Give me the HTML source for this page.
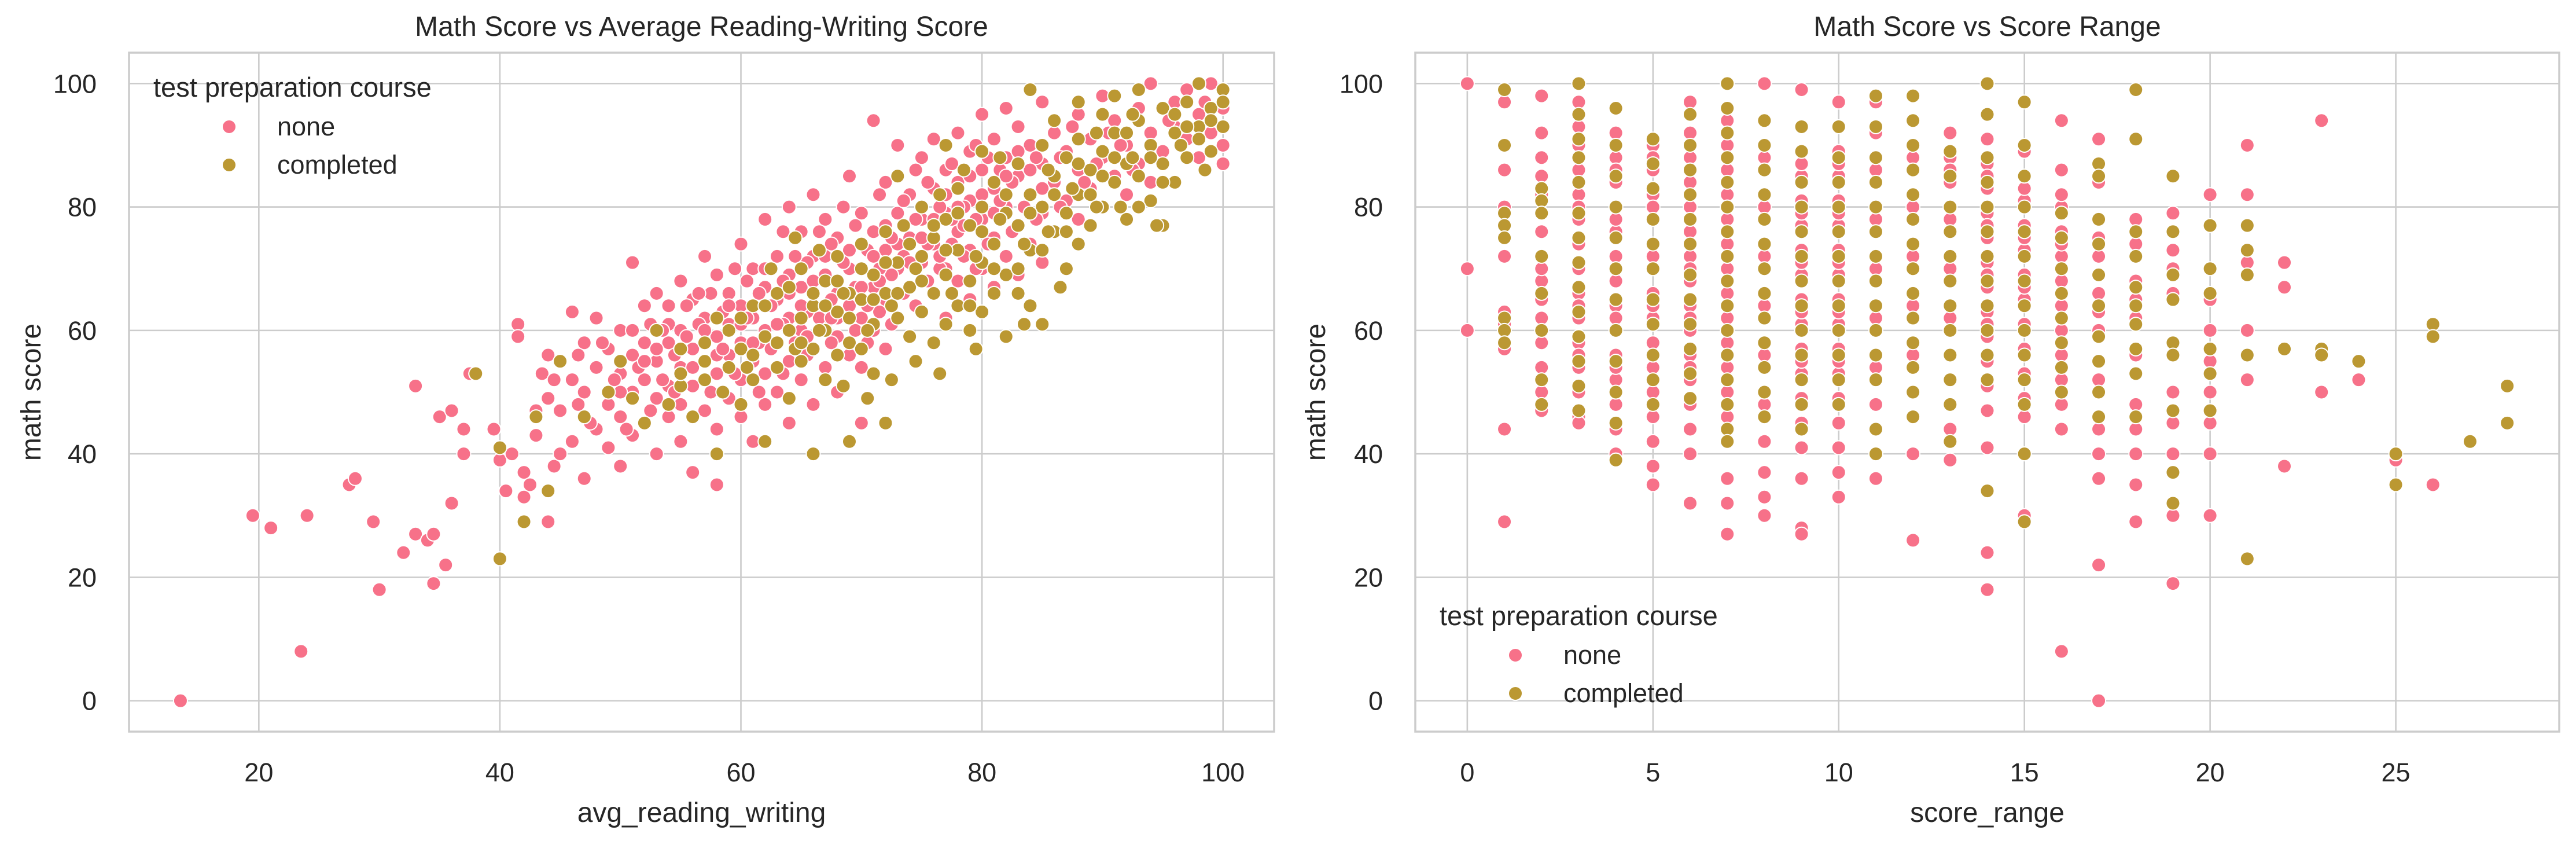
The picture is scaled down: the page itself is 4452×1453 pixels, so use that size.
<!DOCTYPE html>
<html><head><meta charset="utf-8"><style>
html,body{margin:0;padding:0;background:#fff;}
svg{display:block;font-family:"Liberation Sans",Arial,sans-serif;}
</style></head><body>
<svg id="chart" width="4452" height="1453" viewBox="0 0 4452 1453" xmlns="http://www.w3.org/2000/svg">
<rect width="4452" height="1453" fill="#fff"/>
<g id="p1"></g>
<g id="p2"></g>
</svg>
<script>
// ---- data: left panel (avg_reading_writing, math score) ----
const leftNone = [[13.5,0],[19.5,30],[21,28],[23.5,8],[24,30],[27.5,35],[28,36],[29.5,29],[30,18],[32,24],[33,27],[33,51],[34,26],[34.5,19],[34.5,27],[35,46],[35.5,22],[36,47],[36,32],[37,44],[37,40],[37.5,53],[38,53],[39.5,44],[40,39],[40.5,34],[41,40],[41.5,61],[41.5,59],[42,37],[42,33],[42.5,35],[43,47],[43,43],[43.5,53],[44,29],[44,49],[44.5,38],[44,56],
[45,55],[45,40],[45,47],[46,52],[46,63],[46,42],[47,58],[47,36],[47,50],[48,54],[48,44],[48,62],[49,41],[49,57],[49,48],[50,53],[50,60],[50,46],[50,38],[51,71],[51,56],[51,50],[51,43],[52,64],[52,58],[52,52],[52,45],[53,49],[53,66],[53,55],[53,40],[54,61],[54,51],[54,58],[54,46],[55,68],[55,60],[55,54],[55,48],[55,42],[56,65],[56,57],[56,51],[56,37],[57,72],[57,62],[57,55],[57,47],[58,69],[58,59],[58,53],[58,44],[58,35],[59,66],[59,61],[59,56],[59,49],[60,74],[60,64],[60,58],[60,52],[60,46],[61,70],[61,62],[61,55],[61,42],[62,78],[62,67],[62,60],[62,53],[62,48],[63,72],[63,65],[63,58],[63,50],[64,80],[64,69],[64,62],[64,55],[64,45],[65,76],[65,67],[65,60],[65,52],[66,82],[66,72],[66,64],[66,57],[66,48],[67,78],[67,69],[67,61],[67,54],[68,75],[68,66],[68,59],[68,50],[69,85],[69,73],[69,64],[69,56],[70,79],[70,70],[70,62],[70,54],[70,45],[71,94],[71,76],[71,67],[71,60],[72,84],[72,73],[72,65],[72,57],[73,90],[73,79],[73,70],[73,62],[74,82],[74,75],[74,67],[74,59],[75,88],[75,78],[75,71],[75,63],[76,91],[76,83],[76,74],[76,66],[77,86],[77,79],[77,70],[77,62],[78,92],[78,84],[78,76],[78,68],[79,89],[79,81],[79,73],[79,65],[80,95],[80,86],[80,78],[80,70],[81,91],[81,83],[81,75],[81,67],[82,96],[82,88],[82,80],[82,72],[83,93],[83,85],[83,77],[83,69],[84,90],[84,82],[84,74],[85,97],[85,87],[85,79],[85,71],[86,92],[86,84],[86,76],[87,89],[87,81],[88,95],[88,86],[88,78],[89,91],[89,83],[90,98],[90,88],[90,80],[91,94],[91,85],[92,90],[92,82],[93,96],[93,87],[94,100],[94,92],[94,84],[95,89],[96,97],[96,93],[97,99],[97,91],[98,95],[98,88],[99,100],[99,92],[100,96],[100,90],[100,87],
[60.5,68],[63.5,76],[65.5,71],[67.5,74],[68.5,80],[70.5,73],[71.5,82],[72.5,69],[73.5,77],[74.5,86],[75.5,74],[76.5,80],[77.5,87],[78.5,72],[79.5,78],[81.5,86],[84.5,88],[66.5,62],[64.5,58],[62.5,64],[58.5,63],[56.5,61],[54.5,56],[59.5,70],[61.5,66],[69.5,67],[57.5,50],[55.5,64],[53.5,60],[52.5,47],[71.5,63],[73.5,66],[75.5,68],[77.5,74],[79.5,70],[83.5,80],[86.5,88],[89.5,87],[91.5,90],[87.5,93],[59.5,53],[61.5,58],[63.5,61],[65.5,63],[67.5,65],[69.5,60],[71.5,70],[73.5,72],[57.5,66],[55.5,59],[53.5,52],[51.5,54],[49.5,52],[47.5,45],[46.5,56],[63.5,53],[65.5,56],[67.5,58],[70.5,64],[72.5,61],[74.5,64],[76.5,70],[78.5,80],[80.5,74],[82.5,84],[84.5,78],[86.5,80],[88.5,84],[90.5,92],[92.5,86],[95.5,94],[98.5,97],
[50,50],[51,60],[52,55],[53,57],[54,64],[55,57],[56,54],[57,60],[58,56],[59,64],[60,61],[61,58],[62,70],[63,61],[64,66],[65,64],[66,68],[67,72],[68,62],[69,70],[70,67],[71,72],[72,77],[73,74],[74,71],[75,75],[76,78],[77,82],[78,80],[79,85],[80,82],[81,79],[82,85],[83,89],[84,86],[85,83],[52.5,61],[54.5,50],[56.5,66],[58.5,57],[60.5,62],[62.5,57],[64.5,72],[66.5,76],[68.5,71],[70.5,58],[72.5,75],[74.5,78],[76.5,72],[78.5,77],[80.5,88],[82.5,76],[48.5,58],[46.5,48],[44.5,52],[50.5,44],[61.5,50],[63.5,68],[65.5,59],[67.5,62],[69.5,77],[71.5,68],[73.5,81],[75.5,84],[77.5,78],[79.5,90],[81.5,81]];
const leftCompleted = [[38,53],[40,23],[40,41],[42,29],[43,46],[45,55],[44,34],[47,46],[49,50],[50,55],[51,49],[52,45],[53,60],[54,48],[55,57],[55,51],[56,46],[57,58],[57,52],[58,40],[58,62],[59,54],[60,57],[60,48],[61,64],[61,52],[62,59],[62,42],[63,66],[63,54],[64,60],[64,49],[65,70],[65,62],[65,55],[66,64],[66,57],[66,40],[67,68],[67,60],[67,52],[68,72],[68,63],[68,56],[69,66],[69,58],[69,42],[70,74],[70,65],[70,57],[71,69],[71,61],[71,53],[72,76],[72,66],[72,45],[73,85],[73,71],[73,62],[74,67],[74,59],[75,80],[75,72],[75,63],[76,75],[76,66],[76,58],[77,90],[77,78],[77,69],[77,61],[78,83],[78,73],[78,64],[79,77],[79,68],[79,60],[80,89],[80,80],[80,71],[80,63],[81,84],[81,74],[81,66],[82,79],[82,69],[82,59],[83,87],[83,77],[83,70],[84,99],[84,82],[84,73],[84,64],[85,90],[85,80],[85,61],[86,94],[86,85],[86,76],[87,88],[87,79],[87,70],[88,97],[88,91],[88,82],[88,74],[89,86],[89,77],[90,95],[90,89],[90,80],[91,98],[91,92],[91,84],[92,87],[92,78],[93,99],[93,94],[93,85],[94,90],[94,81],[95,96],[95,87],[95,77],[96,92],[96,84],[97,97],[97,88],[98,100],[98,93],[99,96],[99,89],[100,99],[100,93],[100,97],[94.5,77],[91.5,80],[86.5,67],[83.5,61],[79.5,57],[76.5,53],[74.5,55],[72.5,52],[70.5,49],[68.5,51],[73.5,77],[76.5,82],[78.5,86],[81.5,88],[85.5,86],[89.5,92],[92.5,95],[62.5,70],[64.5,75],[66.5,73],[70.5,60],[72.5,64],[74.5,70],[77.5,66],[79.5,72],[81.5,78],[83.5,74],[85.5,76],[87.5,83],[89.5,80],[92.5,88],[96.5,90],[98.5,86],[68.5,66],[66.5,60],[64.5,57],[60.5,54],[58.5,50],
[60,62],[62,64],[64,67],[66,66],[68,68],[70,70],[72,71],[74,74],[76,77],[78,79],[80,76],[82,82],[84,79],[86,82],[88,87],[90,85],[92,92],[94,88],[96,95],[98,91],[63,58],[65,58],[67,64],[69,62],[71,65],[73,66],[75,68],[77,73],[79,64],[81,70],[83,66],[85,73],[87,76],[89,82],[91,88],[93,80],[95,84],[97,93],[99,94],[61,56],[59,60],[57,55],[55,53]];

// ---- data: right panel, math scores grouped by score_range (index = score_range) ----
const rangeNone = [[100,70,60],[97,86,80,72,63,61,57,44,29],[98,92,88,82,76,72,68,65,62,58,54,50,47,85,79,70],[97,90,86,82,78,74,70,66,62,58,54,50,46,45,93,88,80,64,56],[92,88,84,80,76,72,68,64,60,56,52,48,44,40,39,86,78,70,62,54],[90,86,82,78,74,70,66,62,58,54,50,46,42,38,35,88,80,72,64,56],[97,92,88,84,80,76,72,68,64,60,56,52,48,44,40,32,86,78,70,62,54],[100,94,90,86,82,78,74,70,66,62,58,54,50,46,42,36,32,27,88,80,72,64,56,48],[100,94,90,86,82,78,74,70,66,62,58,54,50,46,42,37,33,30,88,80,72,64,56,48],[99,93,89,85,81,77,73,69,65,61,57,53,49,45,41,36,28,27,87,79,71,63,55],[97,93,89,85,81,77,73,69,65,61,57,53,49,45,41,37,33,87,79,71,63,55],[97,92,88,84,80,76,72,68,64,60,56,52,48,44,40,36,86,78,70,62,54],[98,94,90,86,82,78,74,70,66,62,58,54,50,46,40,26,88,80,72,64,56],[92,88,84,80,76,72,68,64,60,56,52,48,44,39,86,78,70,62],[95,91,87,83,79,75,71,67,63,59,55,51,47,41,24,18,85,77,69,61],[89,85,81,77,73,69,65,61,57,53,49,46,40,30,83,75,67],[94,86,80,76,72,68,64,60,56,52,48,44,8,82,74,66],[91,84,78,72,66,60,52,44,40,36,22,0,75,69,63],[78,74,68,62,56,48,44,40,35,29,65],[79,73,70,66,58,50,45,40,30,19],[82,65,60,55,50,45,40,30],[90,82,71,60,52],[71,67,38],[94,50],[52],[39],[35],[],[]];
const rangeCompleted = [[],[99,90,79,77,75,62,60,58],[83,81,79,72,66,60,52,48],[100,95,91,88,84,79,75,71,67,63,59,55,51,47],[96,90,85,80,75,70,65,60,55,50,45,39],[91,87,83,78,74,70,65,61,56,52,48],[95,90,86,82,78,74,69,65,61,57,53,49],[100,96,92,88,84,80,76,72,68,64,60,56,52,48,44,42],[94,90,86,82,78,74,70,66,62,58,54,50,46],[93,89,84,80,76,72,68,64,60,56,52,48,44],[93,88,84,80,76,72,68,64,60,56,52,48],[98,93,88,84,80,76,72,68,64,60,56,52,44,40],[98,94,90,86,82,78,74,70,66,62,58,54,50,46],[89,85,80,76,72,68,64,60,56,52,48,42],[100,95,88,84,80,76,72,68,64,60,56,52,34],[97,90,85,80,76,72,68,64,60,56,52,48,40,29],[79,75,70,66,62,58,54,50],[87,85,78,74,69,64,59,55,50,46],[99,91,76,72,67,64,61,57,53,46],[85,76,69,65,58,56,47,37,32],[77,70,66,57,53,47],[77,73,69,56,23],[57],[57,56],[55],[40,35],[61,59],[42],[51,45]];

const yTicks = [0,20,40,60,80,100];
const xTicksLeft = [20,40,60,80,100];
const xTicksRight = [0,5,10,15,20,25];

const NS = "http://www.w3.org/2000/svg";
const PINK = "#f77189", OLIVE = "#bb9832", GRID = "#cccccc", TXT = "#262626";
function mk(parent, tag, attrs, text){
  const e = document.createElementNS(NS, tag);
  for (const k in attrs) e.setAttribute(k, attrs[k]);
  if (text !== undefined) e.textContent = text;
  parent.appendChild(e);
  return e;
}
function linear(d0,d1,r0,r1){ return v => r0 + (v-d0)/(d1-d0)*(r1-r0); }

function panel(g, cfg){
  const {left,right,top,bottom,xd,yd,xTicks,title,xlabel,ylabelX,legendY} = cfg;
  const sx = linear(xd[0],xd[1],left,right);
  const sy = linear(yd[0],yd[1],bottom,top);
  xTicks.forEach(t=>{
    const l = mk(g,'line',{x1:sx(t),x2:sx(t),y1:top,y2:bottom,stroke:GRID,'stroke-width':2.6});
    
    
    const tx = mk(g,'text',{x:sx(t),y:1350,'text-anchor':'middle','font-size':45,fill:TXT},String(t));
    
    
  });
  yTicks.forEach(t=>{
    const l = mk(g,'line',{x1:left,x2:right,y1:sy(t),y2:sy(t),stroke:GRID,'stroke-width':2.6});
    
    
    const tx = mk(g,'text',{x:left-56,y:sy(t)+16,'text-anchor':'end','font-size':45,fill:TXT},String(t));
    
    
  });
  const fr = mk(g,'rect',{x:left,y:top,width:right-left,height:bottom-top,fill:'none',stroke:GRID,'stroke-width':3.5});
  
  
  const pts = mk(g,'g',{});
  
  
  cfg.series.forEach(s=>{
    s.pts.forEach(p=>{
      const c = mk(pts,'circle',{cx:sx(p[0]),cy:sy(p[1]),r:12,fill:s.color,stroke:'#fff','stroke-width':2});
      
      
    });
  });
  const tt = mk(g,'text',{x:(left+right)/2,y:62,'text-anchor':'middle','font-size':48,fill:TXT},title);
  
  
  const xl = mk(g,'text',{x:(left+right)/2,y:1420,'text-anchor':'middle','font-size':48,fill:TXT},xlabel);
  
  
  const yl = mk(g,'text',{x:ylabelX,y:(top+bottom)/2,'text-anchor':'middle','font-size':48,fill:TXT,transform:`rotate(-90 ${ylabelX} ${(top+bottom)/2})`},'math score');
  
  
  const lg = mk(g,'g',{});
  
  
  const lx = left+42;
  const lt = mk(lg,'text',{x:lx,y:legendY,'font-size':47,fill:TXT},'test preparation course');
  
  
  cfg.series.forEach((s,i)=>{
    const cy = legendY+52+i*66;
    const c = mk(lg,'circle',{cx:lx+131,cy:cy,r:12,fill:s.color,stroke:'#fff','stroke-width':2});
    
    
    const t = mk(lg,'text',{x:lx+214,y:cy+15,'font-size':45,fill:TXT},s.name);
    
    
  });
}

function flatRange(arr){ const out=[]; arr.forEach((ys,x)=>ys.forEach(y=>out.push([x,y]))); return out; }

panel(document.getElementById('p1'),{
  left:223,right:2202,top:91,bottom:1264,xd:[9.23,104.24],yd:[-5,105],
  xTicks:xTicksLeft,title:'Math Score vs Average Reading-Writing Score',xlabel:'avg_reading_writing',
  ylabelX:70,legendY:167,
  series:[{name:'none',color:PINK,pts:leftNone},{name:'completed',color:OLIVE,pts:leftCompleted}]
});
panel(document.getElementById('p2'),{
  left:2446,right:4423,top:91,bottom:1264,xd:[-1.4,29.4],yd:[-5,105],
  xTicks:xTicksRight,title:'Math Score vs Score Range',xlabel:'score_range',
  ylabelX:2290,legendY:1080,
  series:[{name:'none',color:PINK,pts:flatRange(rangeNone)},{name:'completed',color:OLIVE,pts:flatRange(rangeCompleted)}]
});
</script>
</body></html>
